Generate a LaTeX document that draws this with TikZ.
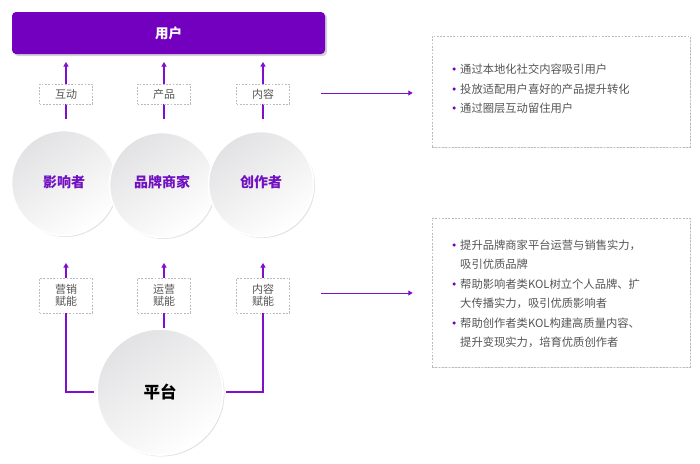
\documentclass[tikz,border=0pt]{standalone}
\usepackage{fontspec}
\setmainfont{Noto Sans CJK SC}
\usetikzlibrary{arrows.meta,shadows,calc}
\definecolor{brand}{HTML}{7300BF}
\definecolor{lineP}{HTML}{7E0FD0}
\definecolor{txtP}{HTML}{7010C0}
\definecolor{txtG}{HTML}{555555}
\definecolor{boxG}{HTML}{BBBBBB}
\definecolor{ballG}{HTML}{E2E2E4}
\tikzset{
  ball/.style={circle, draw=white, line width=1.6pt, top color=ballG, bottom color=white, shading angle=35,
    drop shadow={shadow xshift=1.5pt, shadow yshift=-1.5pt, opacity=0.22, fill=gray}, inner sep=0pt},
  balltxt/.style={font=\bfseries\fontsize{14}{16}\selectfont, text=txtP},
  lbl/.style={draw=boxG, dash pattern=on 1.8pt off 1.5pt, line width=0.5pt, fill=white, minimum width=53pt,
    font=\fontsize{11}{12.5}\selectfont, text=txtG, align=center, inner sep=2pt},
  conn/.style={draw=lineP, line width=1.3pt},
  arr/.style={conn, -{Triangle[length=4.5pt,width=5pt]}},
  infobox/.style={draw=boxG, dash pattern=on 1.8pt off 1.5pt, line width=0.5pt, fill=white,
    drop shadow={shadow xshift=1.2pt, shadow yshift=-1.2pt, opacity=0.2, fill=gray}},
  itemtxt/.style={font=\fontsize{11.3}{19.5}\selectfont, text=txtG, align=left, anchor=west, inner sep=0pt},
  dot/.style={circle, fill=brand, minimum size=3.5pt, inner sep=0pt}
}
\begin{document}
\begin{tikzpicture}[x=1pt,y=-1pt]
\useasboundingbox (0,0) rectangle (700,463);
% user bar
\node[draw=none, fill=brand, rounded corners=4pt, minimum width=313pt, minimum height=42pt,
  drop shadow={shadow xshift=2pt, shadow yshift=-2pt, opacity=0.35, fill=gray},
  font=\bfseries\fontsize{13.5}{15}\selectfont, text=white] (user) at (168.5,33) {用户};
% circles
\node[ball, minimum size=105pt] (c1) at (64,183) {};
\node[ball, minimum size=105pt] (c2) at (162,185) {};
\node[ball, minimum size=105pt] (c3) at (261,184) {};
\node[balltxt] (t1) at (64,182) {影响者};
\node[balltxt] (t2) at (162,182) {品牌商家};
\node[balltxt] (t3) at (261,182) {创作者};
\node[ball, minimum size=126pt] (plat) at (160,392) {};
\node[font=\bfseries\fontsize{16.5}{18}\selectfont, text=black] (pt) at (plat) {平台};
% top connectors
\coordinate (u1) at (66,54);
\coordinate (u2) at (164,54);
\coordinate (u3) at (263,54);
\coordinate (s1) at (66,119);
\coordinate (s2) at (164,119);
\coordinate (s3) at (263,119);
\draw[arr, shorten >=8pt] (s1) -- (u1);
\draw[arr, shorten >=8pt] (s2) -- (u2);
\draw[arr, shorten >=8pt] (s3) -- (u3);
\node[lbl, minimum height=20pt] (l1) at (66,94) {互动};
\node[lbl, minimum height=20pt] (l2) at (164,94) {产品};
\node[lbl, minimum height=20pt] (l3) at (263,94) {内容};
% bottom labels
\node[lbl, minimum height=35pt] (m1) at (66,295.5) {营销\\赋能};
\node[lbl, minimum height=35pt] (m2) at (164,295.5) {运营\\赋能};
\node[lbl, minimum height=35pt] (m3) at (263,295.5) {内容\\赋能};
\coordinate (e1) at (66,263);
\coordinate (e2) at (164,263);
\coordinate (e3) at (263,263);
\draw[arr] (m1.north) -- (e1);
\draw[arr] (m2.north) -- (e2);
\draw[arr] (m3.north) -- (e3);
\draw[conn] ([xshift=-2pt]plat.west) -| (m1.south);
\draw[conn] (m2.south |- plat.north) -- (m2.south);
\draw[conn] ([xshift=2pt]plat.east) -| (m3.south);
% info boxes
\node[infobox, minimum width=258pt, minimum height=111pt] (b1) at (561,91.5) {};
\node[infobox, minimum width=258pt, minimum height=149pt] (b2) at (561,292.5) {};
\coordinate (a1) at (321,93);
\coordinate (a2) at (321,293);
\draw[arr, line width=1pt, shorten >=19pt] (a1) -- (a1 -| b1.west);
\draw[arr, line width=1pt, shorten >=19pt] (a2) -- (a2 -| b2.west);
% box 1 items
\node[dot] (d11) at (454,69) {};
\node[dot] (d12) at (454,89) {};
\node[dot] (d13) at (454,108) {};
\node[itemtxt] (i11) at (460,69) {通过本地化社交内容吸引用户};
\node[itemtxt] (i12) at (460,89) {投放适配用户喜好的产品提升转化};
\node[itemtxt] (i13) at (460,108) {通过圈层互动留住用户};
% box 2 items
\node[dot] (d21) at (454,245) {};
\node[dot] (d22) at (454,284) {};
\node[dot] (d23) at (454,323) {};
\node[itemtxt] (i21a) at (460,245) {提升品牌商家平台运营与销售实力，};
\node[itemtxt] (i21b) at (460,264.5) {吸引优质品牌};
\node[itemtxt] (i22a) at (460,284) {帮助影响者类KOL树立个人品牌、扩};
\node[itemtxt] (i22b) at (460,303.5) {大传播实力，吸引优质影响者};
\node[itemtxt] (i23a) at (460,323) {帮助创作者类KOL构建高质量内容、};
\node[itemtxt] (i23b) at (460,342.5) {提升变现实力，培育优质创作者};
\end{tikzpicture}
\end{document}
